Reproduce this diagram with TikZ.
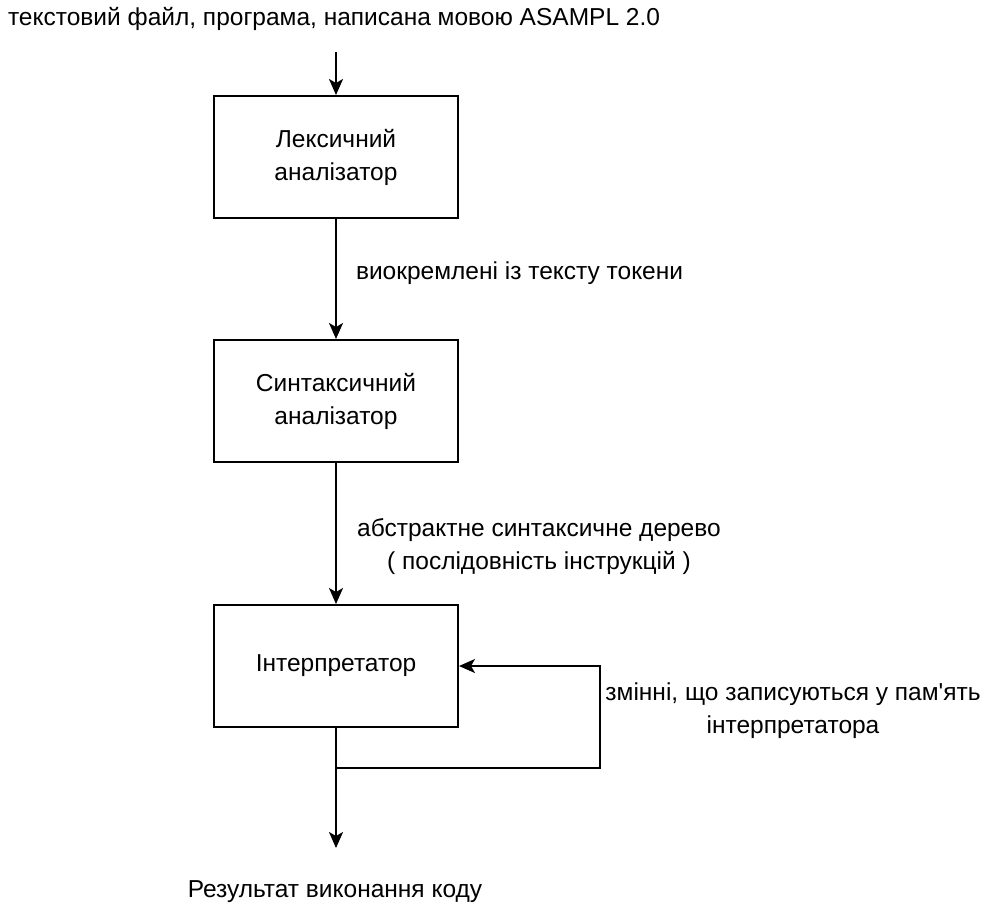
\documentclass[tikz,border=0pt]{standalone}
\usepackage{fontspec}
\setmainfont{Liberation Sans}[Ligatures=TeXOff]
\usetikzlibrary{arrows.meta}
\begin{document}
\begin{tikzpicture}[x=1pt,y=-1pt,
  txt/.style={font=\fontsize{24.5}{33}\selectfont, inner sep=0pt, align=center},
  stage/.style={draw, line width=2pt, minimum width=244pt, minimum height=122pt,
    font=\fontsize{24.5}{33}\selectfont, align=center, inner sep=0pt},
  flow/.style={line width=2pt, -{Stealth[length=16pt,width=14pt,inset=4pt]}},
  link/.style={line width=2pt}]
\useasboundingbox (0,0) rectangle (984,913);
\node[txt] (src) at (334,19) {текстовий файл, програма, написана мовою ASAMPL 2.0};
\coordinate (srcend) at (336,52);
\node[stage] (lex) at (336,157) {Лексичний\\аналізатор};
\node[stage] (syn) at (336,401) {Синтаксичний\\аналізатор};
\node[stage] (int) at (336,666) {Інтерпретатор};
\coordinate (split) at (336,768);
\coordinate (loopr) at (600,768);
\coordinate (loopt) at (600,666);
\coordinate (outend) at (336,848);
\node[txt] (res) at (335,892) {Результат виконання коду};

\draw[flow] (srcend) -- (lex.north);
\draw[flow] (lex.south) -- node[txt, anchor=west, xshift=19pt, yshift=6pt] (tok) {виокремлені із тексту токени} (syn.north);
\draw[flow] (syn.south) -- (int.north);
\node[txt] (ast) at (539,547) {абстрактне синтаксичне дерево\\( послідовність інструкцій )};
\draw[link] (int.south) -- (split);
\draw[flow] (split) -- (loopr) -- (loopt) -- (int.east);
\draw[flow] (split) -- (outend);
\node[txt] (mem) at (793,711) {змінні, що записуються у пам'ять\\інтерпретатора};
\end{tikzpicture}
\end{document}
